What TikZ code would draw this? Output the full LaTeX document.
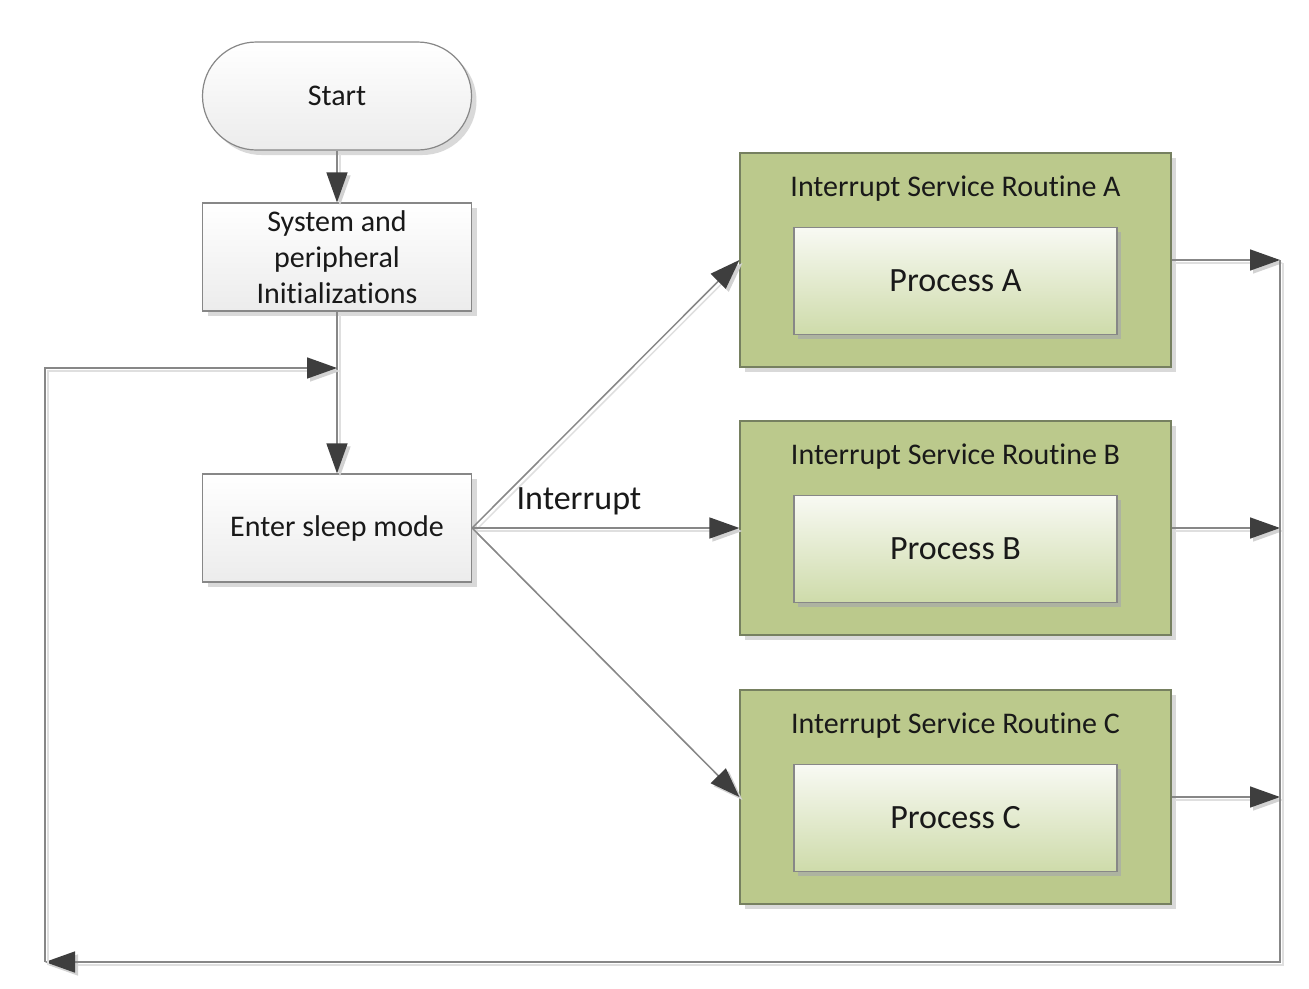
\documentclass[tikz,border=0pt]{standalone}
\usepackage{fontspec}
\setmainfont{Carlito}[Ligatures=NoCommon]
\usetikzlibrary{arrows.meta,shadows}

\definecolor{boxborder}{RGB}{135,135,135}
\definecolor{linegray}{RGB}{135,135,135}
\definecolor{tipdark}{RGB}{62,62,62}
\definecolor{isrgreen}{RGB}{187,201,140}
\definecolor{isrborder}{RGB}{118,128,96}
\definecolor{procbot}{RGB}{206,219,170}
\definecolor{txt}{RGB}{25,25,25}

\tikzset{
  flowbox/.style={draw=boxborder, line width=1.2pt, top color=white, bottom color=gray!15,
    drop shadow={shadow xshift=5pt, shadow yshift=-5pt, fill=gray!30, opacity=1},
    font=\fontsize{30}{36}\selectfont, text=txt, align=center,
    minimum width=269pt, minimum height=108pt, inner sep=0pt},
  startbox/.style={flowbox, rounded corners=54pt},
  isrbox/.style={draw=isrborder, line width=1.2pt, fill=isrgreen,
    drop shadow={shadow xshift=5pt, shadow yshift=-5pt, fill=gray!30, opacity=1},
    minimum width=431pt, minimum height=214pt, inner sep=0pt},
  isrtitle/.style={font=\fontsize{30}{36}\selectfont, text=txt, inner sep=0pt},
  procbox/.style={draw=boxborder, line width=1.2pt, top color=white!90!isrgreen, bottom color=procbot,
    drop shadow={shadow xshift=4pt, shadow yshift=-4pt, fill=isrborder!60, opacity=1},
    font=\fontsize{34}{40}\selectfont, text=txt,
    minimum width=323pt, minimum height=107pt, inner sep=0pt},
  conn/.style={draw=linegray, line width=1.5pt,
    -{Triangle[length=30pt,width=21pt,color=tipdark]},
    preaction={draw=gray!25, line width=1.5pt,
      -{Triangle[length=30pt,width=21pt,color=gray!35]},
      transform canvas={shift={(3pt,-3pt)}}}}
}

\begin{document}
\begin{tikzpicture}[x=1pt,y=-1pt]
  \useasboundingbox (0,0) rectangle (1309,988);
  % left column
  \node[startbox] (start) at (337,96) {Start};
  \node[flowbox] (init) at (337,257) {System and\\peripheral\\Initializations};
  \node[flowbox] (sleep) at (337,528) {Enter sleep mode};
  % interrupt routines
  \foreach \n/\y in {A/260,B/528,C/797}{
    \node[isrbox] (isr\n) at (955.5,\y) {};
    \node[isrtitle] (tit\n) at (955.5,\y-71) {Interrupt Service Routine \n};
    \node[procbox] (proc\n) at (955.5,\y+21) {Process \n};
  }
  % return path
  \coordinate (busA) at (1280,260);
  \coordinate (busB) at (1280,528);
  \coordinate (busC) at (1280,797);
  \coordinate (busBot) at (1280,962);
  \coordinate (cornerL) at (45,962);
  \coordinate (cornerUL) at (45,368);
  \coordinate (join) at (337,368);
  % connectors
  \draw[conn] (start.south) -- (init.north);
  \draw[conn] (init.south) -- (sleep.north);
  \draw[conn] (sleep.east) -- (isrA.west);
  \draw[conn] (sleep.east) -- (isrB.west);
  \draw[conn] (sleep.east) -- (isrC.west);
  \node[font=\fontsize{34}{40}\selectfont, text=txt, inner sep=0pt] (intlbl) at (579,501) {Interrupt};
  \foreach \n in {A,B,C}
    \draw[conn] (isr\n.east) -- (bus\n);
  \draw[conn] (busA) -- (busBot) -- (cornerL);
  \draw[conn] (cornerL) -- (cornerUL) -- (join);
\end{tikzpicture}
\end{document}
